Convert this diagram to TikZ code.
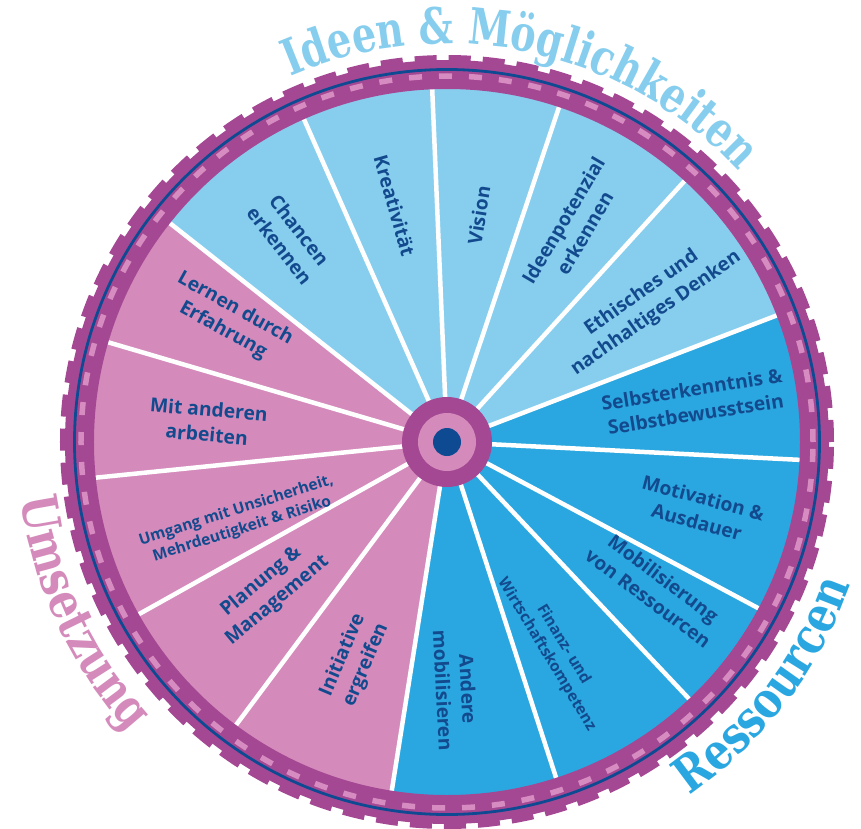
\documentclass[tikz,border=0pt]{standalone}
\usepackage{fontspec}
\setsansfont{Open Sans}
\newfontfamily\slabfont{DejaVu Serif}[FakeStretch=0.83]
\newfontfamily\slabnarrow{DejaVu Serif}[FakeStretch=0.76]
\usepackage{tikz}
\usetikzlibrary{decorations.text}

\definecolor{ideablue}{HTML}{87CEEE}
\definecolor{resblue}{HTML}{2AA7E0}
\definecolor{actpink}{HTML}{D48BBB}
\definecolor{ringpurple}{HTML}{A54894}
\definecolor{dashpink}{HTML}{D68CC0}
\definecolor{navy}{HTML}{0E4A91}
\definecolor{labelblue}{HTML}{134A8E}

\tikzset{
  lbl/.style={text=labelblue, font=\sffamily\bfseries\fontsize{19.3}{25}\selectfont, align=center, inner sep=0pt},
  lblsmall/.style={lbl, font=\sffamily\bfseries\fontsize{15.5}{19.5}\selectfont},
  spoke/.style={white, line width=4.5pt},
  arctitle/.style={decorate, decoration={text along path, text align=center, text color=#1}},
}

\begin{document}
\begin{tikzpicture}[x=1pt, y=1pt]
            \useasboundingbox (-447,-386) rectangle (414,442);

            % sectors
            \fill[ideablue] (0,0) -- (21:355) arc[start angle=21, end angle=141.7, radius=355pt] -- cycle;
            \fill[actpink] (0,0) -- (141.7:355) arc[start angle=141.7, end angle=261, radius=355pt] -- cycle;
            \fill[resblue] (0,0) -- (261:355) arc[start angle=261, end angle=381, radius=355pt] -- cycle;

            \foreach \a in {21, 47.7, 71.5, 92.4, 113.9, 141.7, 163.6, 185.8, 209.2, 233.3, 261, 288, 313.3, 331.9, 357.1}
                \draw[spoke] (0,0) -- (\a:355);

            % outer ring
            \fill[ringpurple, even odd rule] (0,0) circle[radius=382pt] (0,0) circle[radius=353pt];
            \draw[ringpurple, line width=8pt, dash pattern=on 22pt off 12pt] (0,0) circle[radius=383pt];
            \draw[dashpink, line width=5.5pt, dash pattern=on 13pt off 17pt] (0,0) circle[radius=366pt];
            \draw[navy, line width=2.8pt] (0,0) circle[radius=372.5pt];

            % hub
            \fill[ringpurple] (0,0) circle[radius=45pt];
            \fill[actpink] (0,0) circle[radius=29pt];
            \fill[navy] (0,0) circle[radius=14pt];

            \node[lbl, rotate=-52] (chancen) at (127.6:258) {Chancen\\erkennen};
            \node[lbl, rotate=-74] (kreativ) at (102.5:242) {Kreativität};
            \node[lbl, rotate=81] (vision) at (82:229) {Vision};
            \node[lbl, rotate=59.5] (ideenpot) at (59.5:250) {Ideenpotenzial\\erkennen};
            \node[lbl, rotate=35] (ethisch) at (34.5:245) {Ethisches und\\nachhaltiges Denken};
            \node[lbl, rotate=9] (selbst) at (9.3:250) {Selbsterkenntnis \&\\Selbstbewusstsein};
            \node[lbl, rotate=-15] (motiv) at (-15:262) {Motivation \&\\Ausdauer};
            \node[lbl, rotate=-37] (mobil) at (-35:255) {Mobilisierung\\von Ressourcen};
            \node[lblsmall, rotate=-59] (finanz) at (-62.5:234) {Finanz- und\\Wirtschaftskompetenz};
            \node[lbl, rotate=-87] (andere) at (-88:248) {Andere\\mobilisieren};
            \node[lbl, rotate=67] (initiat) at (247:237) {Initiative\\ergreifen};
            \node[lbl, rotate=40] (planung) at (220:232) {Planung \&\\Management};
            \node[lblsmall, rotate=17.5] (umgang) at (200.6:222) {Umgang mit Unsicherheit,\\Mehrdeutigkeit \& Risiko};
            \node[lbl, rotate=-5] (mitand) at (175.2:240) {Mit anderen\\arbeiten};
            \node[lbl, rotate=-29] (lernen) at (150.7:250) {Lernen durch\\Erfahrung};

            % titles round the wheel
            \path[arctitle=ideablue, decoration={text={|\slabnarrow\bfseries\fontsize{50}{50}\selectfont|Ideen {\&} Möglichkeiten}}]
                (128:398) arc[start angle=128, end angle=28, radius=398pt];
            \path[arctitle=resblue, decoration={text={|\slabfont\bfseries\fontsize{50}{50}\selectfont|Ressourcen}}]
                (-67.5:428) arc[start angle=-67.5, end angle=-7.5, radius=428pt];
            \path[arctitle=actpink, decoration={text={|\slabfont\bfseries\fontsize{50}{50}\selectfont|Umsetzung}}]
                (175:430) arc[start angle=175, end angle=235, radius=430pt];
        \end{tikzpicture}
\end{document}
